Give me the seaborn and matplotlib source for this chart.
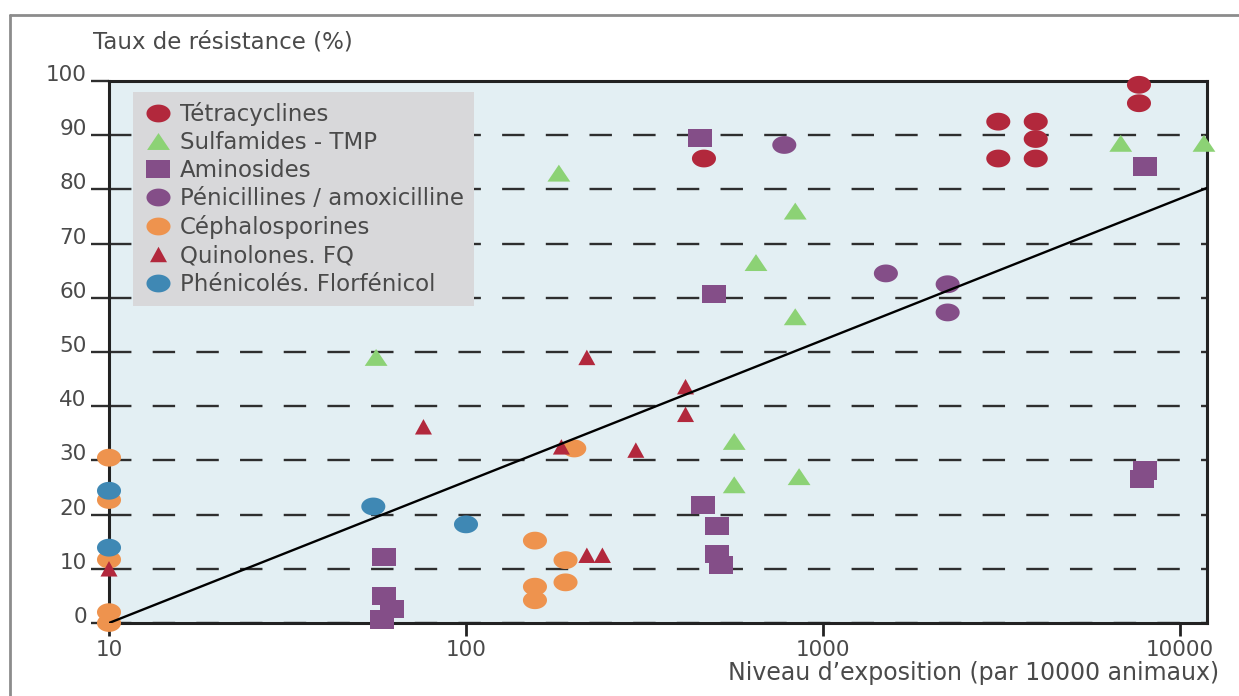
import numpy as np
import pandas as pd
import matplotlib
matplotlib.use("Agg")
import matplotlib.pyplot as plt
import seaborn as sns
from matplotlib.lines import Line2D

# ---------------- data ----------------
categories = ["Tétracyclines", "Sulfamides - TMP", "Aminosides",
              "Pénicillines / amoxicilline", "Céphalosporines",
              "Quinolones. FQ", "Phénicolés. Florfénicol"]

tetra_x = [464, 3097, 3097, 3943, 3943, 3943, 7674, 7674]
tetra_y = [85.7, 92.5, 85.7, 92.5, 89.3, 85.7, 99.3, 95.9]

sulfa_x = [56, 182, 564, 564, 649, 836, 836, 857, 6823, 11670]
sulfa_y = [49, 83, 33.5, 25.5, 66.5, 76, 56.5, 27, 88.5, 88.5]

amino_x = [59, 59, 62, 58, 452, 495, 462, 506, 506, 519, 8000, 8000, 7830]
amino_y = [12.2, 5.0, 2.6, 0.6, 89.5, 60.7, 21.8, 17.9, 12.7, 10.7, 84.2, 28.1, 26.6]

peni_x = [779, 1500, 2234, 2234]
peni_y = [88.2, 64.5, 62.5, 57.3]

cepha_x = [10, 10, 10, 10, 10, 201, 156, 190, 190, 156, 156]
cepha_y = [30.5, 22.7, 11.7, 2, 0, 32.2, 15.2, 11.6, 7.5, 6.7, 4.2]

quino_x = [10, 76, 185, 218, 299, 218, 241, 412, 412]
quino_y = [10, 36.2, 32.5, 49, 31.9, 12.5, 12.5, 43.6, 38.5]

pheni_x = [10, 10, 55, 100]
pheni_y = [24.4, 13.9, 21.5, 18.2]

# trend line: y = slope * log10(x) + intercept
trend_slope = 26.1
trend_intercept = -26.1

y_ticks = [0, 10, 20, 30, 40, 50, 60, 70, 80, 90, 100]
x_ticks = [10, 100, 1000, 10000]
x_ticklabels = ["10", "100", "1000", "10000"]

# ---------------- styling ----------------
sns.set_style("white")
plt.rcParams["font.family"] = ["DejaVu Sans"]

TEXT = "#4a4a4a"
colors = {
    "Tétracyclines": "#B2283C",
    "Sulfamides - TMP": "#8CD275",
    "Aminosides": "#844E88",
    "Pénicillines / amoxicilline": "#844E88",
    "Céphalosporines": "#EE934E",
    "Quinolones. FQ": "#B2283C",
    "Phénicolés. Florfénicol": "#3F88B4",
}


def ellipse(r):
    t = np.linspace(0, 2 * np.pi, 72)
    return np.column_stack([r * np.cos(t), np.sin(t)])


def rect(r):
    return np.array([(-r, -1), (r, -1), (r, 1), (-r, 1), (-r, -1)])


def tri(r):
    return np.array([(-r, -1), (r, -1), (0, 1), (-r, -1)])


markers = {
    "Tétracyclines": (ellipse(1.35), 300),
    "Sulfamides - TMP": (tri(1.35), 270),
    "Aminosides": (rect(1.3), 300),
    "Pénicillines / amoxicilline": (ellipse(1.35), 300),
    "Céphalosporines": (ellipse(1.35), 300),
    "Quinolones. FQ": (tri(1.1), 150),
    "Phénicolés. Florfénicol": (ellipse(1.35), 300),
}

series = {
    "Tétracyclines": (tetra_x, tetra_y),
    "Sulfamides - TMP": (sulfa_x, sulfa_y),
    "Aminosides": (amino_x, amino_y),
    "Pénicillines / amoxicilline": (peni_x, peni_y),
    "Céphalosporines": (cepha_x, cepha_y),
    "Quinolones. FQ": (quino_x, quino_y),
    "Phénicolés. Florfénicol": (pheni_x, pheni_y),
}

W, H = 1239, 696
fig = plt.figure(figsize=(W / 100, H / 100), dpi=100)
ax = fig.add_axes([109 / W, 1 - 623 / H, (1207 - 109) / W, (623 - 81) / H])
ax.set_facecolor("#E3EFF3")

draw_order = ["Aminosides", "Tétracyclines", "Sulfamides - TMP",
              "Pénicillines / amoxicilline", "Céphalosporines",
              "Quinolones. FQ", "Phénicolés. Florfénicol"]
for i, cat in enumerate(draw_order):
    xs, ys = series[cat]
    df = pd.DataFrame({"x": xs, "y": ys})
    mk, s = markers[cat]
    sns.scatterplot(data=df, x="x", y="y", ax=ax, marker=mk, s=s,
                    color=colors[cat], edgecolor="none", linewidth=0,
                    clip_on=False, zorder=3 + i * 0.1, legend=False)

ax.set_xscale("log")
ax.set_xlim(10, 11900)
ax.set_ylim(0, 100)

# trend line
tx = np.array(ax.get_xlim())
ty = trend_slope * np.log10(tx) + trend_intercept
sns.lineplot(x=tx, y=ty, ax=ax, color="black", lw=1.7, zorder=5, legend=False)

ax.set_xlabel("")
ax.set_ylabel("")
ax.set_yticks(y_ticks)
ax.set_xticks(x_ticks)
ax.set_xticklabels(x_ticklabels)
ax.xaxis.set_minor_locator(matplotlib.ticker.NullLocator())
ax.yaxis.grid(True, linestyle=(0, (9.5, 9)), linewidth=1.7, color="#2e2e2e", zorder=1)
ax.xaxis.grid(False)
ax.set_axisbelow(True)

ax.tick_params(axis="y", length=13, width=1.7, color="#2e2e2e", labelsize=15.5,
               labelcolor=TEXT, pad=3, left=True)
ax.tick_params(axis="x", length=9, width=2, color="#222222", labelsize=15.5,
               labelcolor=TEXT, pad=3, bottom=True)
for lab in ax.get_yticklabels():
    lab.set_va("baseline")

for sp in ax.spines.values():
    sp.set_visible(True)
    sp.set_color("#222222")
    sp.set_linewidth(2.2)

# legend
handles = []
for cat in categories:
    mk, s = markers[cat]
    handles.append(Line2D([], [], linestyle="none", marker=mk,
                          markersize=np.sqrt(s), markerfacecolor=colors[cat],
                          markeredgewidth=0, label=cat))
leg = ax.legend(handles=handles, loc="upper left",
                bbox_to_anchor=(24 / 1098, 1 - 11 / 542), borderaxespad=0,
                frameon=True, fancybox=False, framealpha=1,
                facecolor="#D8D8DA", edgecolor="none", fontsize=16.5,
                labelspacing=0.22, handletextpad=0.3, handlelength=1.3,
                borderpad=0.45)
for t in leg.get_texts():
    t.set_color(TEXT)
leg.set_zorder(10)

# axis titles
fig.text(93 / W, 1 - 42 / H, "Taux de résistance (%)", ha="left", va="center",
         fontsize=16.5, color=TEXT)
fig.text(1219 / W, 1 - 673 / H, "Niveau d’exposition (par 10000 animaux)",
         ha="right", va="center", fontsize=17, color=TEXT)

# outer frame
fig.add_artist(Line2D([10 / W, 1], [1 - 15 / H, 1 - 15 / H], transform=fig.transFigure,
                      color="#8c8c8c", lw=2))
fig.add_artist(Line2D([10 / W, 10 / W], [0, 1 - 15 / H], transform=fig.transFigure,
                      color="#8c8c8c", lw=2))

fig.savefig("out.png", dpi=100)
